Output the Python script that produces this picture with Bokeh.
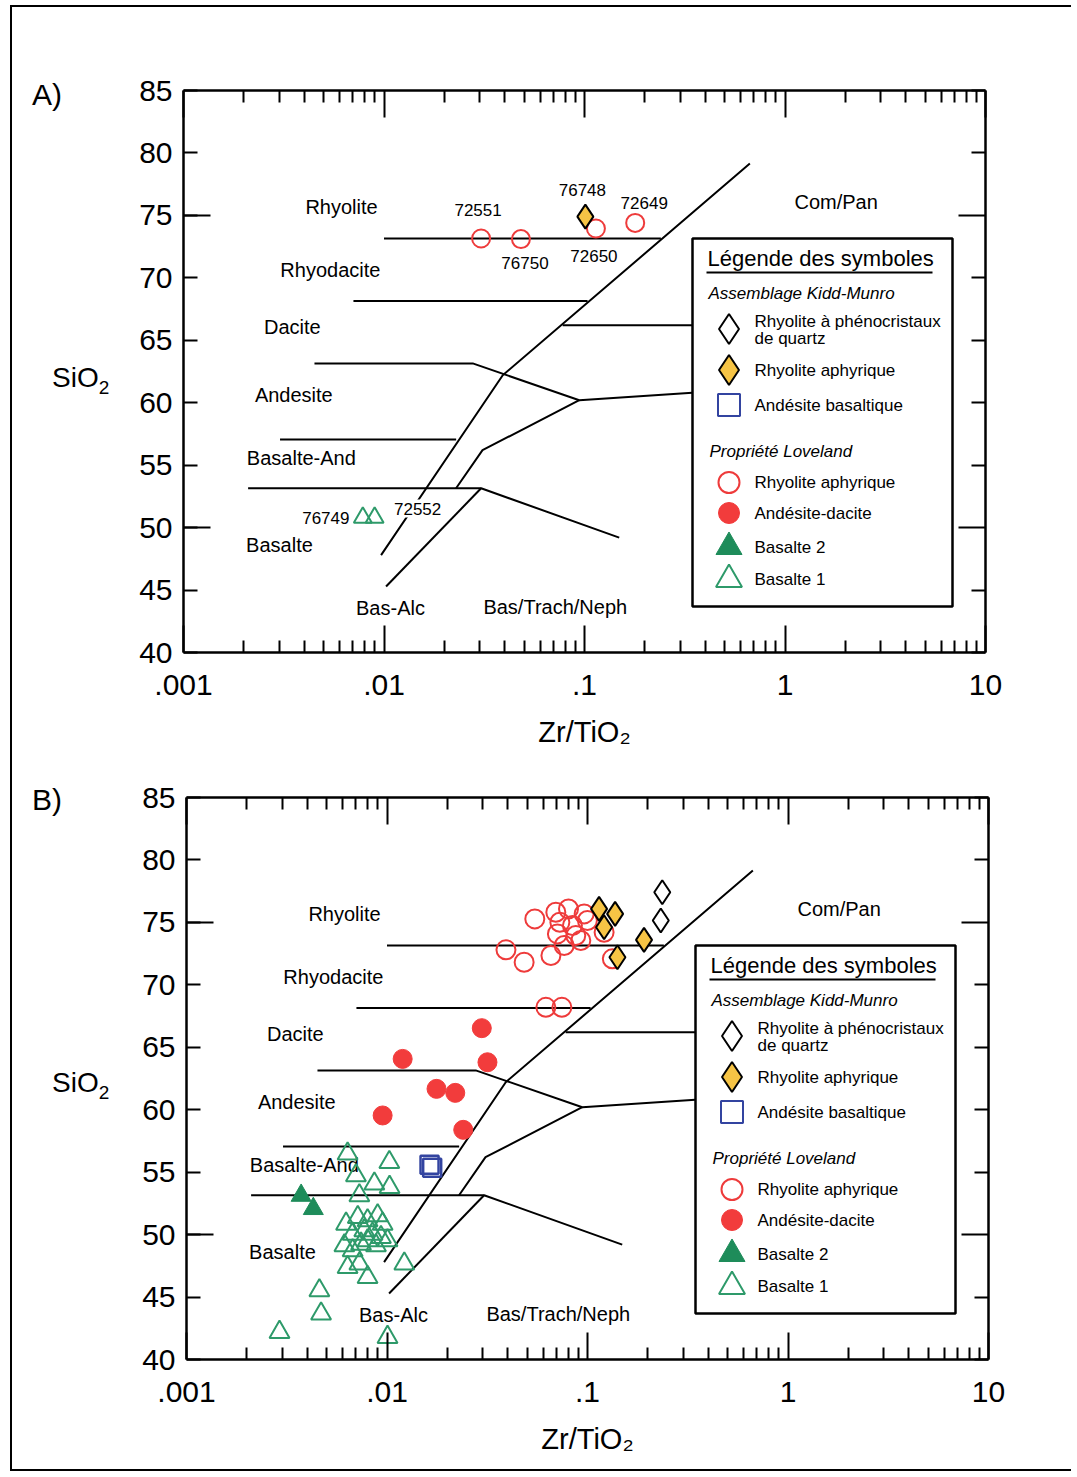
import math
from bokeh.plotting import figure
from bokeh.models import (Range1d, LogAxis, LinearAxis, FixedTicker,
                          CustomJSTickFormatter, Div)
from bokeh.layouts import column, row
from bokeh.embed import file_html
from bokeh.resources import INLINE
from bokeh.core.properties import value

# ------------------------------------------------------------------ data
# Field boundaries (Winchester & Floyd) : Zr/TiO2 (log) vs SiO2
BND_X = [
    [0.0100, 0.2404],                  # Rhyolite / Rhyodacite
    [0.00704, 0.1036],                 # Rhyodacite / Dacite
    [0.0045, 0.0277, 0.0942, 0.345],   # Dacite / Andesite (-> Trachyandesite)
    [0.0778, 0.345],                   # Trachyte / Trachyandesite
    [0.00303, 0.0229],                 # Andesite / Basalte-And
    [0.0021, 0.0305, 0.149],           # Basalte-And / Basalte
    [0.00967, 0.0391, 0.668],          # sub-alkaline / alkaline
    [0.0942, 0.031, 0.02288],          # Andesite / Trachyandesite
    [0.01024, 0.0305],                 # Bas-Alc / Bas/Trach/Neph
]
BND_Y = [
    [73.15, 73.15],
    [68.14, 68.14],
    [63.15, 63.15, 60.2, 60.8],
    [66.2, 66.2],
    [57.05, 57.05],
    [53.15, 53.15, 49.2],
    [47.8, 62.2, 79.15],
    [60.2, 56.2, 53.15],
    [45.28, 53.15],
]

REGION_NAMES = ["Rhyolite", "Rhyodacite", "Dacite", "Andesite", "Basalte-And",
                "Basalte", "Bas-Alc", "Bas/Trach/Neph", "Com/Pan"]
REGION_X = [0.00614, 0.0054, 0.00349, 0.00355, 0.00387, 0.00301, 0.01077, 0.0715, 1.80]
REGION_Y = [75.66, 70.6, 66.05, 60.6, 55.6, 48.6, 43.6, 43.65, 76.1]

X_MAJOR = [0.001, 0.01, 0.1, 1, 10]
X_MINOR = [0.002, 0.003, 0.004, 0.005, 0.006, 0.007, 0.008, 0.009,
           0.02, 0.03, 0.04, 0.05, 0.06, 0.07, 0.08, 0.09,
           0.2, 0.3, 0.4, 0.5, 0.6, 0.7, 0.8, 0.9,
           2, 3, 4, 5, 6, 7, 8, 9]
Y_TICKS = [40, 45, 50, 55, 60, 65, 70, 75, 80, 85]
Y_LONG = [50, 75]

# Panel A
A_RHY_APH_X = [0.0305, 0.0482, 0.114, 0.179]
A_RHY_APH_Y = [73.15, 73.1, 73.95, 74.4]
A_RHY_APH_ID = ["72551", "76750", "72650", "72649"]
A_KM_APH_X = [0.101]
A_KM_APH_Y = [74.9]
A_KM_APH_ID = ["76748"]
A_BAS1_X = [0.00784, 0.00898]
A_BAS1_Y = [50.8, 50.8]
A_BAS1_ID = ["76749", "72552"]

# Panel B
B_RHY_APH_X = [0.0546, 0.0695, 0.0804, 0.0728, 0.0841, 0.0962, 0.0999, 0.0708, 0.0874,
               0.0926, 0.0765, 0.0657, 0.0392, 0.0483, 0.121, 0.133, 0.062, 0.0745]
B_RHY_APH_Y = [75.28, 75.81, 76.08, 75.01, 74.75, 75.68, 75.15, 74.08, 73.95,
               73.55, 73.15, 72.35, 72.8, 71.81, 74.21, 72.08, 68.2, 68.2]
B_KM_APH_X = [0.1142, 0.1373, 0.121, 0.1914, 0.141]
B_KM_APH_Y = [76.08, 75.68, 74.61, 73.6, 72.21]
B_KM_QTZ_X = [0.236, 0.232]
B_KM_QTZ_Y = [77.41, 75.15]
B_KM_BASAND_X = [0.0163, 0.0168]
B_KM_BASAND_Y = [55.6, 55.35]
B_AND_DAC_X = [0.0297, 0.01197, 0.0317, 0.01766, 0.0219, 0.00951, 0.024]
B_AND_DAC_Y = [66.53, 64.07, 63.8, 61.67, 61.35, 59.54, 58.39]
B_BAS2_X = [0.00373, 0.00429]
B_BAS2_Y = [53.13, 52.07]
B_BAS1_X = [0.00636, 0.01027, 0.0070, 0.00865, 0.0103, 0.00728,
            0.00625, 0.00715, 0.0080, 0.00898, 0.00951, 0.00674, 0.0077, 0.00847,
            0.00933, 0.00613, 0.00742, 0.00881, 0.00674, 0.01006, 0.0080,
            0.00636, 0.00728, 0.0080, 0.0122, 0.0046, 0.00469, 0.00291, 0.01006]
B_BAS1_Y = [56.47, 55.8, 54.73, 54.07, 53.8, 53.13,
            50.86, 51.39, 51.13, 51.53, 50.86, 50.06, 50.33, 50.06,
            49.79, 49.13, 49.26, 49.13, 48.73, 49.53, 49.53,
            47.39, 47.66, 46.59, 47.66, 45.52, 43.66, 42.19, 41.79]

# ------------------------------------------------------------------ style
FONT = "Liberation Sans"
RED = "#ee3b3b"
RED_FILL = "#f23c3c"
GREEN = "#2e9a6a"
GREEN_FILL = "#1e8c5a"
YELLOW = "#f6c445"
BLUE = "#3344a0"
W, H = 802, 562
SIDE_W = 100


def fx(px):
    """frame pixel (from left) -> Zr/TiO2"""
    return 10 ** (-3 + 4.0 * px / W)


def fy(py):
    """frame pixel (from top) -> SiO2"""
    return 85 - 45.0 * py / H


def txt(p, x, y, s, size, align="left", style="normal", **kw):
    p.text(x=x, y=y, text=s, text_font=value(FONT), text_font_size=size,
           text_align=align, text_baseline="middle", text_color="black",
           text_font_style=style, **kw)


def side_div(letter, letter_top, sio_top, h):
    html = (
        f'<div style="position:relative;width:{SIDE_W}px;height:{h}px;'
        f"font-family:'Liberation Sans',Arial,sans-serif;color:#000;\">"
        f'<div style="position:absolute;left:20px;top:{letter_top}px;'
        f'font-size:30px;line-height:30px;white-space:nowrap;">{letter}</div>'
        f'<div style="position:absolute;left:40px;top:{sio_top}px;'
        f'font-size:28px;line-height:28px;white-space:nowrap;">SiO'
        f'<span style="font-size:19px;position:relative;top:7px;">2</span></div>'
        f'</div>')
    return Div(text=html, width=SIDE_W, height=h, margin=0)


def make_panel(mb):
    p = figure(x_axis_type="log", x_range=Range1d(0.001, 10), y_range=Range1d(40, 85),
               frame_width=W, frame_height=H,
               min_border_left=mb[0], min_border_top=mb[1],
               min_border_right=mb[2], min_border_bottom=mb[3],
               toolbar_location=None, output_backend="svg", outline_line_color=None,
               background_fill_color="white", border_fill_color="white", margin=0)
    p.grid.visible = False

    def style(ax):
        ax.axis_line_width = 2.5
        ax.axis_line_color = "black"
        ax.major_tick_line_width = 2
        ax.minor_tick_line_width = 2
        ax.major_tick_out = 0
        ax.minor_tick_out = 0
        ax.major_label_text_font = FONT
        ax.major_label_text_font_size = "30px"
        ax.major_label_text_color = "black"

    xb = p.xaxis[0]
    xb.ticker = FixedTicker(ticks=X_MAJOR, minor_ticks=X_MINOR)
    xb.formatter = CustomJSTickFormatter(
        code="return tick < 1 ? String(tick).replace(/^0/, '') : String(tick);")
    style(xb)
    xb.major_tick_in = 27
    xb.minor_tick_in = 12
    xb.major_label_standoff = 22
    xb.axis_label = "Zr/TiO\u2082"
    xb.axis_label_text_font = FONT
    xb.axis_label_text_font_size = "29px"
    xb.axis_label_text_font_style = "normal"
    xb.axis_label_text_color = "black"
    xb.axis_label_standoff = 18

    xt = LogAxis(ticker=FixedTicker(ticks=X_MAJOR, minor_ticks=X_MINOR),
                 formatter=CustomJSTickFormatter(code="return '';"))
    style(xt)
    xt.major_label_text_font_size = "0px"
    xt.major_label_standoff = 0
    xt.major_tick_in = 27
    xt.minor_tick_in = 12
    p.add_layout(xt, "above")

    yl = p.yaxis[0]
    yl.ticker = FixedTicker(ticks=Y_TICKS)
    style(yl)
    yl.major_tick_in = 14
    yl.minor_tick_line_color = None
    yl.major_label_standoff = 11

    yr = LinearAxis(ticker=FixedTicker(ticks=Y_LONG,
                                       minor_ticks=[t for t in Y_TICKS if t not in Y_LONG]),
                    formatter=CustomJSTickFormatter(code="return '';"))
    style(yr)
    yr.major_label_text_font_size = "0px"
    yr.major_label_standoff = 0
    yr.major_tick_in = 27
    yr.minor_tick_in = 14
    p.add_layout(yr, "right")

    # long ticks of the left axis
    p.ray(x=[X_MAJOR[0]] * len(Y_LONG), y=Y_LONG, length=27, angle=0,
          length_units="screen", line_color="black", line_width=2)

    # field boundaries and names
    p.multi_line(xs=BND_X, ys=BND_Y, line_color="black", line_width=2)
    txt(p, REGION_X, REGION_Y, REGION_NAMES, "20px", align="center")
    return p


def legend(p):
    L, T, LW, LH = 509, 148, 260, 368
    p.quad(left=[fx(L)], right=[fx(L + LW)], top=[fy(T)], bottom=[fy(T + LH)],
           fill_color="white", line_color="black", line_width=2.5)
    txt(p, [fx(L + 15)], [fy(T + 20)], ["Légende des symboles"], "22px")
    p.line(x=[fx(L + 14), fx(L + 240)], y=[fy(T + 34), fy(T + 34)],
           line_color="black", line_width=2)
    txt(p, [fx(L + 16)], [fy(T + 55)], ["Assemblage Kidd-Munro"], "17px", style="italic")
    txt(p, [fx(L + 17)], [fy(T + 213)], ["Propriété Loveland"], "17px", style="italic")
    mx = fx(L + 36.5)
    p.scatter([mx], [fy(T + 90.5)], marker="diamond", size=30, fill_color="white",
              line_color="black", line_width=2)
    p.scatter([mx], [fy(T + 131.5)], marker="diamond", size=30, fill_color=YELLOW,
              line_color="black", line_width=2)
    p.scatter([mx], [fy(T + 166.5)], marker="square", size=22, fill_color=None,
              line_color=BLUE, line_width=2)
    p.scatter([mx], [fy(T + 244)], marker="circle", size=21, fill_color=None,
              line_color=RED, line_width=2)
    p.scatter([mx], [fy(T + 274.5)], marker="circle", size=21, fill_color=RED_FILL,
              line_color=RED_FILL)
    p.scatter([mx], [fy(T + 308.5)], marker="triangle", size=26, fill_color=GREEN_FILL,
              line_color=GREEN_FILL)
    p.scatter([mx], [fy(T + 341)], marker="triangle", size=26, fill_color=None,
              line_color=GREEN, line_width=2)
    tx = fx(L + 62)
    rows = [(82.5, "Rhyolite à phénocristaux"), (99.5, "de quartz"),
            (131.5, "Rhyolite aphyrique"), (166.5, "Andésite basaltique"),
            (244, "Rhyolite aphyrique"), (274.5, "Andésite-dacite"),
            (308.5, "Basalte 2"), (341, "Basalte 1")]
    txt(p, [tx] * len(rows), [fy(T + r[0]) for r in rows], [r[1] for r in rows], "17px")


# ------------------------------------------------------------------ panel A
HA, HB = 755, 707
pA = make_panel((71, 83, 86, 110))
pA.scatter(A_RHY_APH_X, A_RHY_APH_Y, marker="circle", size=18, fill_color=None,
           line_color=RED, line_width=2)
pA.scatter(A_KM_APH_X, A_KM_APH_Y, marker="diamond", size=24, fill_color=YELLOW,
           line_color="black", line_width=2)
pA.scatter(A_BAS1_X, A_BAS1_Y, marker="triangle", size=18, fill_color=None,
           line_color=GREEN, line_width=2)
A_IDS = A_RHY_APH_ID + A_KM_APH_ID + A_BAS1_ID
A_IDX = A_RHY_APH_X + A_KM_APH_X + A_BAS1_X
A_IDY = A_RHY_APH_Y + A_KM_APH_Y + A_BAS1_Y
ID_DX = [-3, 4, -2, 9, -3, -37, 43]
ID_DY = [-28, 24, 27, -20, -27, 0, -9]
pA.text(x=A_IDX, y=A_IDY, text=A_IDS, x_offset=ID_DX, y_offset=ID_DY,
        text_font=value(FONT), text_font_size="17px", text_align="center",
        text_baseline="middle", text_color="black",
        background_fill_color="white", padding=3)
legend(pA)

# ------------------------------------------------------------------ panel B
pB = make_panel((74, 35, 83, 110))
pB.scatter(B_RHY_APH_X, B_RHY_APH_Y, marker="circle", size=19, fill_color=None,
           line_color=RED, line_width=2)
pB.scatter(B_AND_DAC_X, B_AND_DAC_Y, marker="circle", size=19, fill_color=RED_FILL,
           line_color=RED_FILL)
pB.scatter(B_KM_APH_X, B_KM_APH_Y, marker="diamond", size=24, fill_color=YELLOW,
           line_color="black", line_width=2)
pB.scatter(B_KM_QTZ_X, B_KM_QTZ_Y, marker="diamond", size=24, fill_color="white",
           line_color="black", line_width=2)
pB.scatter(B_KM_BASAND_X, B_KM_BASAND_Y, marker="square", size=18, fill_color=None,
           line_color=BLUE, line_width=2.5)
pB.scatter(B_BAS2_X, B_BAS2_Y, marker="triangle", size=20, fill_color=GREEN_FILL,
           line_color=GREEN_FILL)
pB.scatter(B_BAS1_X, B_BAS1_Y, marker="triangle", size=20, fill_color=None,
           line_color=GREEN, line_width=2)
legend(pB)

dA = side_div("A)", 73, 357, HA)
dB = side_div("B)", 23, 307, HB)

layout = column(row(dA, pA, spacing=0, margin=0), row(dB, pB, spacing=0, margin=0),
                spacing=0, margin=(5, 0, 0, 10),
                styles={"border-left": "2px solid black",
                        "border-top": "2px solid black",
                        "border-bottom": "2px solid black"})

open("out.html", "w").write(file_html(layout, INLINE))
